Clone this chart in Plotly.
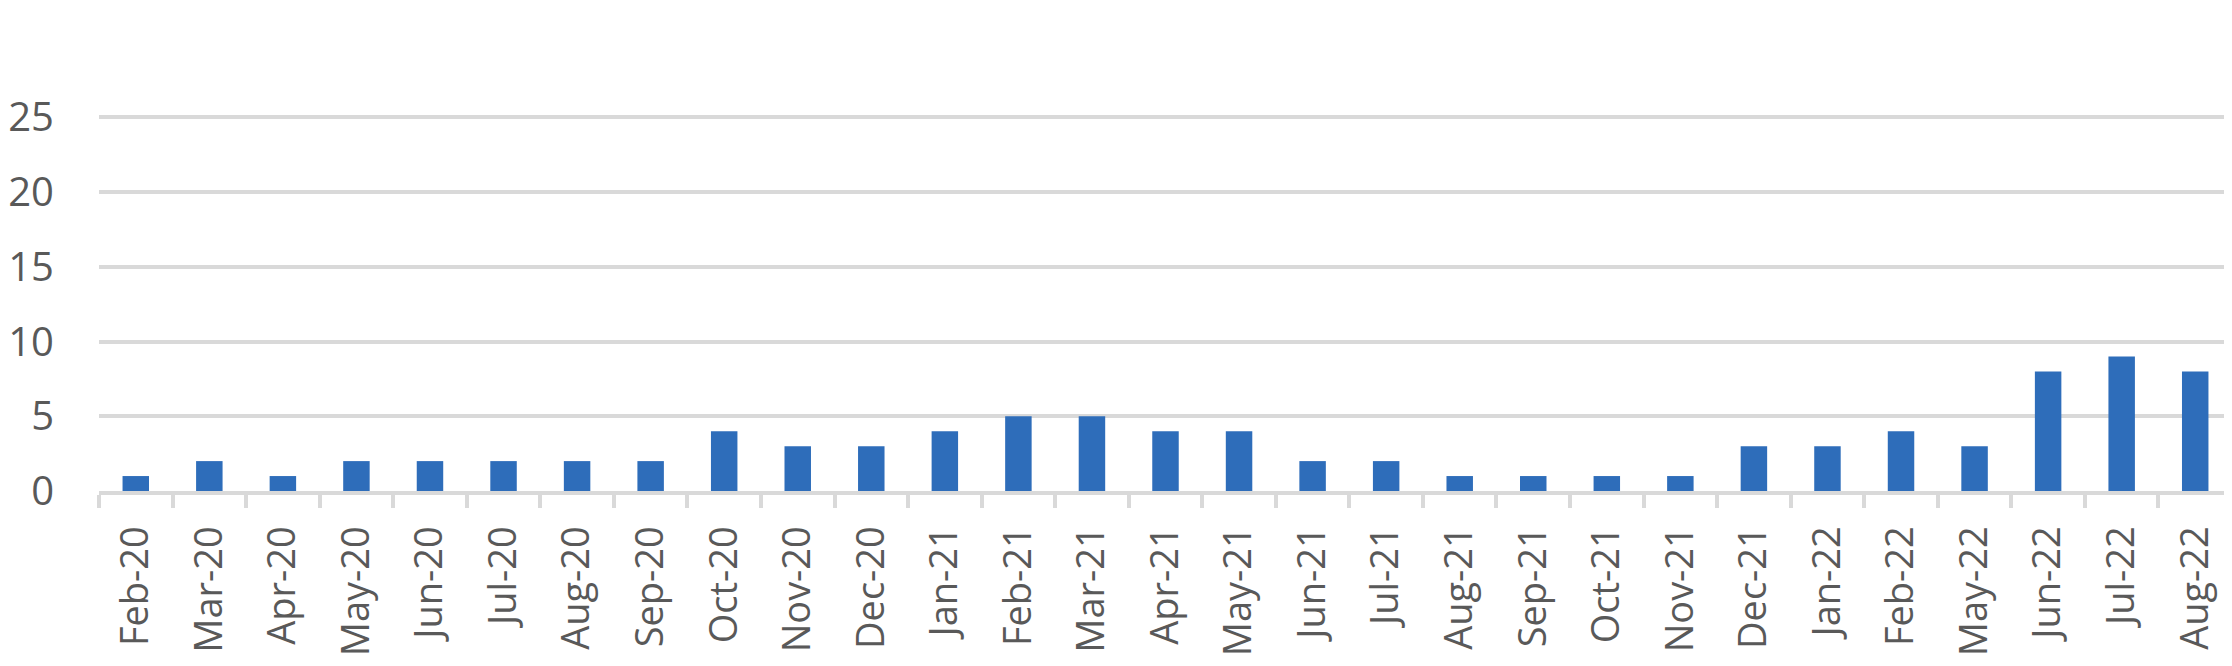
import plotly.graph_objects as go

months = ["Feb-20", "Mar-20", "Apr-20", "May-20", "Jun-20", "Jul-20", "Aug-20", "Sep-20",
          "Oct-20", "Nov-20", "Dec-20", "Jan-21", "Feb-21", "Mar-21", "Apr-21", "May-21",
          "Jun-21", "Jul-21", "Aug-21", "Sep-21", "Oct-21", "Nov-21", "Dec-21", "Jan-22",
          "Feb-22", "May-22", "Jun-22", "Jul-22", "Aug-22"]
counts = [1, 2, 1, 2, 2, 2, 2, 2, 4, 3, 3, 4, 5, 5, 4, 4, 2, 2, 1, 1, 1, 1, 3, 3, 4, 3, 8, 9, 8]
y_ticks = [0, 5, 10, 15, 20, 25]

fig = go.Figure(go.Bar(x=months, y=counts, marker=dict(color="#2E6DBA", line=dict(width=0))))

# page body has an 8px default margin, so the figure is offset by 8px
fig.update_layout(
    width=2224, height=658,
    margin=dict(l=91, r=0, t=107, b=175),
    paper_bgcolor="white", plot_bgcolor="white",
    bargap=0.64,
    showlegend=False,
    font=dict(family="Open Sans", color="#595959", size=38),
)
fig.update_xaxes(
    type="category",
    automargin=False,
    tickangle=-90,
    showgrid=False,
    showline=True, linecolor="#D9D9D9", linewidth=4,
    ticks="outside", tickson="boundaries", ticklen=13, tickwidth=4, tickcolor="#D9D9D9",
    tickfont=dict(family="Open Sans", size=38, color="#595959"),
    ticklabelstandoff=16,
)
fig.update_yaxes(
    automargin=False,
    range=[0, 25.15],
    tickvals=y_ticks,
    showgrid=True, gridcolor="#D9D9D9", gridwidth=4,
    zeroline=False, showline=False,
    tickfont=dict(family="Open Sans", size=40, color="#595959"),
    ticklabelstandoff=44,
)

fig.write_html("out.html")
